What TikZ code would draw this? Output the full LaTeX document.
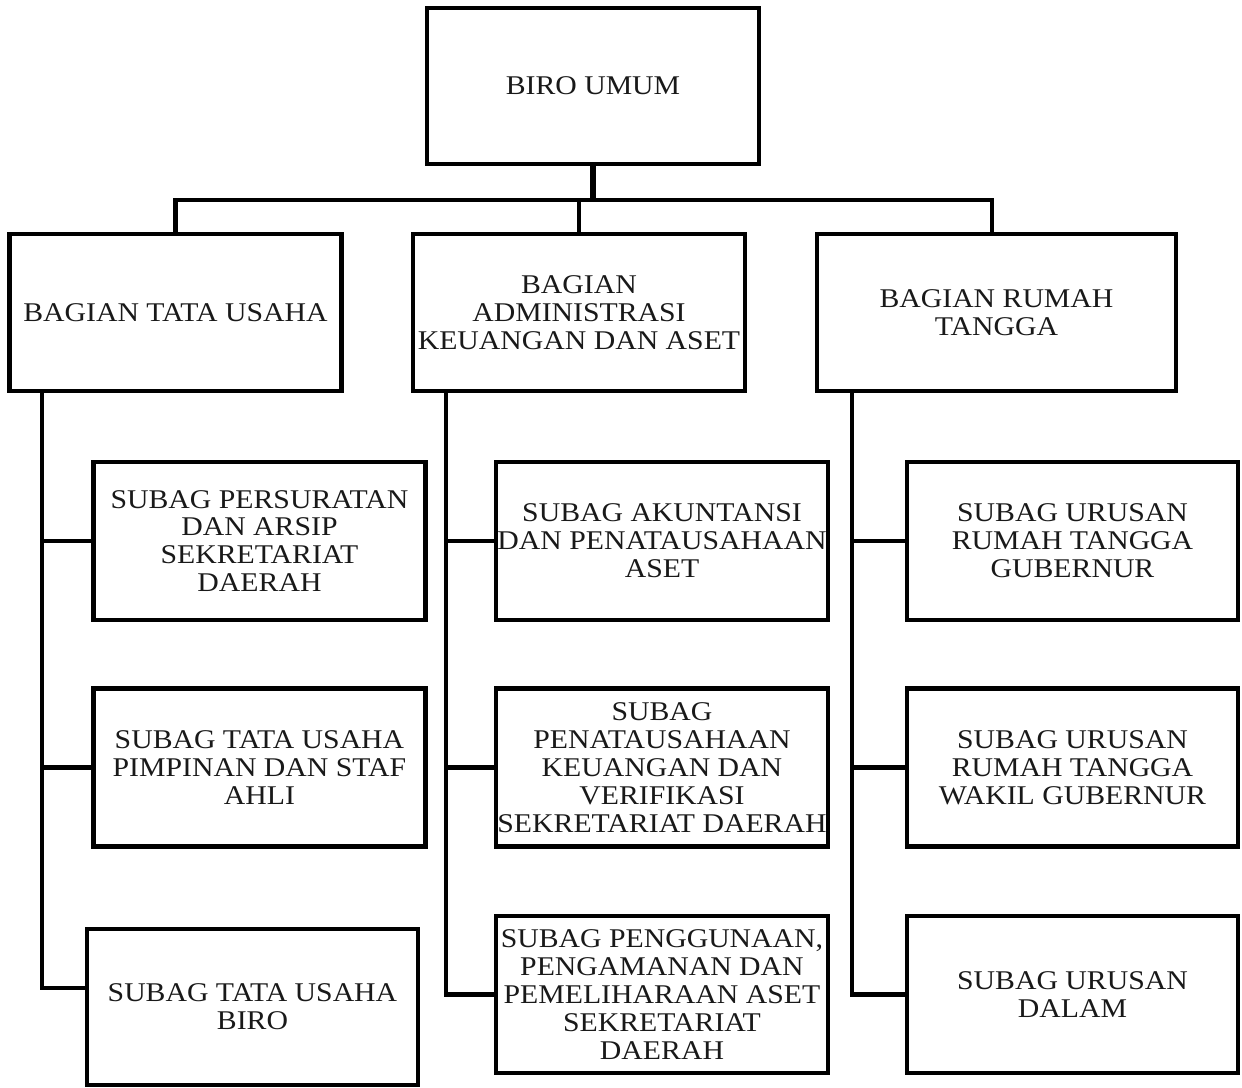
\documentclass[tikz,border=0pt]{standalone}
\usepackage{fontspec}
\setmainfont{Liberation Serif}[FakeStretch=1.1]
\begin{document}
\begin{tikzpicture}[x=0.02cm,y=-0.02cm,
  box/.style={draw=black,line width=2.7pt,rectangle,inner sep=0pt,align=center,
    font={\fontsize{15.4pt}{15.9pt}\selectfont},text=black!90},
  bag/.style={box,minimum width=6.64cm,minimum height=3.14cm},
  sub/.style={box,minimum width=6.64cm,minimum height=3.16cm},
  conn/.style={line width=2.4pt,line join=miter}]
\useasboundingbox (0,0) rectangle (1242,1088);
\node[box,minimum width=6.64cm,minimum height=3.12cm] (top) at (593,86) {BIRO UMUM};
\node[bag] (bag1) at (175.5,312.5) {BAGIAN TATA USAHA};
\node[bag] (bag2) at (579,312.5) {BAGIAN\\ADMINISTRASI\\KEUANGAN DAN ASET};
\node[bag,minimum width=7.18cm] (bag3) at (996.5,312.5) {BAGIAN RUMAH\\TANGGA};
\node[sub] (L1) at (259.5,541) {SUBAG PERSURATAN\\DAN ARSIP\\SEKRETARIAT\\DAERAH};
\node[sub] (L2) at (259.5,767.5) {SUBAG TATA USAHA\\PIMPINAN DAN STAF\\AHLI};
\node[sub,minimum width=6.62cm,minimum height=3.12cm] (L3) at (252.5,1007) {SUBAG TATA USAHA\\BIRO};
\node[sub] (M1) at (662,541) {SUBAG AKUNTANSI\\DAN PENATAUSAHAAN\\ASET};
\node[sub] (M2) at (662,767.5) {SUBAG\\PENATAUSAHAAN\\KEUANGAN DAN\\VERIFIKASI\\SEKRETARIAT DAERAH};
\node[sub,minimum height=3.14cm] (M3) at (662,994.5) {SUBAG PENGGUNAAN,\\PENGAMANAN DAN\\PEMELIHARAAN ASET\\SEKRETARIAT\\DAERAH};
\node[sub,minimum width=6.62cm] (R1) at (1072.5,541) {SUBAG URUSAN\\RUMAH TANGGA\\GUBERNUR};
\node[sub,minimum width=6.62cm] (R2) at (1072.5,767.5) {SUBAG URUSAN\\RUMAH TANGGA\\WAKIL GUBERNUR};
\node[sub,minimum width=6.62cm,minimum height=3.14cm] (R3) at (1072.5,994.5) {SUBAG URUSAN\\DALAM};
% top connectors
\coordinate (j) at (593,200);
\draw[line width=3.2pt] (top.south) -- (j);
\draw[conn] (bag1.north) |- (j);
\draw[conn] (bag3.north -| 992,0) |- (j);
\draw[conn] (bag2.north) -- (bag2.north |- j);
% left spine
\coordinate (sL) at (42,391);
\draw[conn] (sL) |- (L3.west |- 0,988);
\draw[conn] (sL |- L1.west) -- (L1.west);
\draw[conn] (sL |- L2.west) -- (L2.west);
% middle spine
\coordinate (sM) at (446,391);
\draw[conn] (sM) |- (M3.west);
\draw[conn] (sM |- M1.west) -- (M1.west);
\draw[conn] (sM |- M2.west) -- (M2.west);
% right spine
\coordinate (sR) at (852,391);
\draw[conn] (sR) |- (R3.west);
\draw[conn] (sR |- R1.west) -- (R1.west);
\draw[conn] (sR |- R2.west) -- (R2.west);
\end{tikzpicture}
\end{document}
